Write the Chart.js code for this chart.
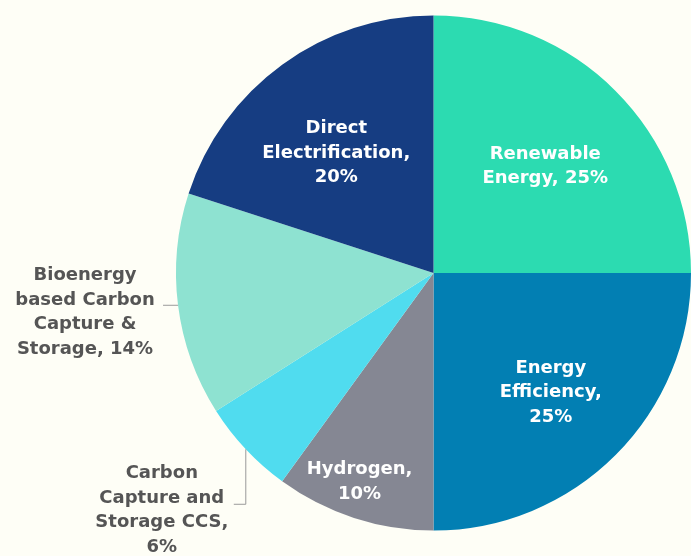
<!DOCTYPE html>
<html>
<head>
<meta charset="utf-8">
<script src="https://cdn.jsdelivr.net/npm/chart.js@4.4.0/dist/chart.umd.min.js"></script>
<style>
  html, body { margin: 0; padding: 0; background: #fefef6; overflow: hidden; }
  #wrap { width: 691px; height: 556px; }
</style>
</head>
<body>
<div id="wrap"><canvas id="pie" width="691" height="556"></canvas></div>
<script>
// data
const labels = ['Renewable Energy', 'Energy Efficiency', 'Hydrogen', 'Carbon Capture and Storage CCS', 'Bioenergy based Carbon Capture & Storage', 'Direct Electrification'];
const shares = [25, 25, 10, 6, 14, 20];
const colors = ['#2cdbb1', '#027fb3', '#858793', '#50dcef', '#8ee2d1', '#163d82'];
// wrapped text lines shown on the chart
const textLines = [
  ['Renewable', 'Energy, 25%'],
  ['Energy', 'Efficiency,', '25%'],
  ['Hydrogen,', '10%'],
  ['Carbon', 'Capture and', 'Storage CCS,', '6%'],
  ['Bioenergy', 'based Carbon', 'Capture &', 'Storage, 14%'],
  ['Direct', 'Electrification,', '20%']
];
const insideLabel = [true, true, true, false, false, true];
const labelRadius = [0.6, 0.65, 0.86, 1, 1, 0.6];
const angleShift = [1.3, 0.5, 1.5, 0, 0, -3];

const FONT = 'bold 18px "DejaVu Sans", sans-serif';
const LINE_H = 24.5;

const sliceLabels = {
  id: 'sliceLabels',
  afterDatasetsDraw(chart) {
    const ctx = chart.ctx;
    const meta = chart.getDatasetMeta(0);
    ctx.save();
    ctx.font = FONT;
    ctx.textAlign = 'center';
    ctx.textBaseline = 'middle';
    meta.data.forEach((arc, i) => {
      const p = arc.getProps(['x', 'y', 'startAngle', 'endAngle', 'outerRadius']);
      const mid = (p.startAngle + p.endAngle) / 2;
      const lines = textLines[i];
      if (insideLabel[i]) {
        const a = mid + angleShift[i] * Math.PI / 180;
        const r = p.outerRadius * labelRadius[i];
        const cx = p.x + Math.cos(a) * r;
        const cy = p.y + Math.sin(a) * r;
        ctx.fillStyle = '#ffffff';
        lines.forEach((t, k) => {
          ctx.fillText(t, cx, cy + (k - (lines.length - 1) / 2) * LINE_H);
        });
      } else {
        const ex = p.x + Math.cos(mid) * p.outerRadius;
        const ey = p.y + Math.sin(mid) * p.outerRadius;
        ctx.strokeStyle = '#9a9a9a';
        ctx.lineWidth = 1;
        ctx.beginPath();
        let tx, ty;
        if (i === 4) {
          ctx.moveTo(ex, ey);
          ctx.lineTo(ex - 15, ey);
          tx = ex - 93;
          ty = ey + 7;
        } else {
          ctx.moveTo(ex, ey);
          ctx.lineTo(ex, ey + 55);
          ctx.lineTo(ex - 12, ey + 55);
          tx = ex - 84;
          ty = ey + 61;
        }
        ctx.stroke();
        ctx.fillStyle = '#555555';
        lines.forEach((t, k) => {
          ctx.fillText(t, tx, ty + (k - (lines.length - 1) / 2) * LINE_H);
        });
      }
    });
    ctx.restore();
  }
};

new Chart(document.getElementById('pie'), {
  type: 'pie',
  data: {
    labels: labels,
    datasets: [{
      data: shares,
      backgroundColor: colors,
      borderWidth: 0
    }]
  },
  options: {
    responsive: false,
    animation: false,
    layout: { padding: { left: 176, right: -1, top: 15, bottom: 25 } },
    plugins: {
      legend: { display: false },
      tooltip: { enabled: false }
    }
  },
  plugins: [sliceLabels]
});
</script>
</body>
</html>
